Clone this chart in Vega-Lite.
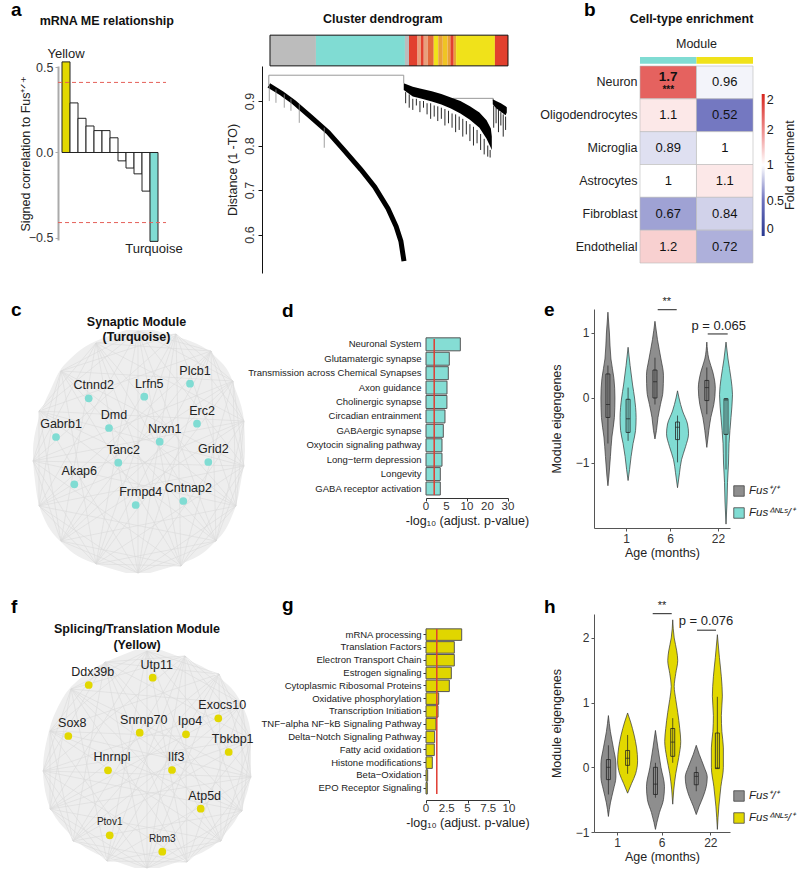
{
  "$schema": "https://vega.github.io/schema/vega-lite/v6.json",
  "background": "white",
  "padding": {"left": 10, "top": 0, "right": 2, "bottom": 2},
  "config": {
    "font": "Liberation Sans",
    "view": {"stroke": null},
    "axis": {"grid": false, "labelColor": "#333333", "titleColor": "#222222", "titleFontWeight": "normal", "labelFontSize": 12, "titleFontSize": 12.5, "domainColor": "#333333", "tickColor": "#333333", "tickSize": 3, "labelOverlap": false},
    "legend": {"padding": 0}
  },
  "columns": 4,
  "spacing": {"row": 36, "column": 0},
  "bounds": "flush",
  "align": "each",
  "concat": [
    {
      "width": 125, "height": 174,
      "layer": [
        {"data": {"name": "me"},
         "mark": {"type": "bar", "width": 8, "stroke": "#222222", "strokeWidth": 1},
         "encoding": {
           "x": {"field": "i", "type": "quantitative", "scale": {"domain": [0, 15.625], "nice": false, "padding": 0, "zero": false}, "axis": null},
           "y": {"field": "r", "type": "quantitative", "scale": {"domain": [-0.512, 0.506], "nice": false, "zero": false},
                 "axis": {"values": [-0.5, 0, 0.5], "format": ".1f", "title": "Signed correlation to Fus⁺ᐟ⁺", "domainColor": "#aaaaaa", "domainWidth": 2, "tickColor": "#aaaaaa", "labelFontSize": 12.5, "titlePadding": -4}},
           "y2": {"datum": 0},
           "color": {"field": "m", "type": "nominal", "scale": {"domain": ["yellow", "other", "turquoise"], "range": ["#e2d800", "#ffffff", "#80dcd3"]}, "legend": null}
         }},
        {"data": {"values": [{"t": 0.41}, {"t": -0.41}]},
         "mark": {"type": "rule", "color": "#e5605a", "strokeDash": [4, 3], "strokeWidth": 1},
         "encoding": {"x": {"datum": 0}, "x2": {"datum": 13.5}, "y": {"field": "t", "type": "quantitative"}}},
        {"data": {"name": "me"}, "transform": [{"filter": "datum.r > 0 && datum.label != ''"}],
         "mark": {"type": "text", "fontSize": 13, "baseline": "bottom", "dy": -1, "color": "#222222"},
         "encoding": {"x": {"field": "i", "type": "quantitative"}, "y": {"field": "r", "type": "quantitative"}, "text": {"field": "label"}}},
        {"data": {"name": "me"}, "transform": [{"filter": "datum.r < 0 && datum.label != ''"}],
         "mark": {"type": "text", "fontSize": 13, "baseline": "top", "dy": 2, "color": "#222222"},
         "encoding": {"x": {"field": "i", "type": "quantitative"}, "y": {"field": "r", "type": "quantitative"}, "text": {"field": "label"}}},
        {"data": {"values": [{}]},
         "mark": {"type": "text", "fontSize": 12.5, "fontWeight": "bold", "color": "#111111"},
         "encoding": {"x": {"datum": 6.1}, "y": {"datum": 0.772}, "text": {"value": "mRNA ME relationship"}}},
        {"data": {"values": [{}]},
         "mark": {"type": "text", "fontSize": 19, "fontWeight": "bold", "align": "left", "baseline": "alphabetic", "color": "#000000"},
         "encoding": {"x": {"datum": -5.875}, "y": {"datum": 0.798}, "text": {"value": "a"}}}
      ]
    },
    {
      "width": 157, "height": 207,
      "layer": [
        {"data": {"name": "dcurve"},
         "mark": {"type": "line", "color": "#000000", "strokeWidth": 5, "strokeCap": "butt"},
         "encoding": {
           "x": {"field": "x", "type": "quantitative", "scale": {"domain": [-0.42, 65.55], "nice": false, "zero": false}, "axis": null},
           "y": {"field": "y", "type": "quantitative", "scale": {"domain": [0.5135, 0.9787], "nice": false, "zero": false},
                 "axis": {"values": [0.6, 0.7, 0.8, 0.9], "format": ".1f", "labelAngle": -90, "title": "Distance (1 -TO)", "offset": 7, "domainColor": "#111111", "tickColor": "#111111", "tickSize": 4, "labelFontSize": 12.5, "titlePadding": 4}}
         }},
        {"data": {"name": "dbracket"},
         "mark": {"type": "line", "color": "#999999", "strokeWidth": 1},
         "encoding": {"x": {"field": "x", "type": "quantitative"}, "y": {"field": "y", "type": "quantitative"}, "detail": {"field": "g"}, "order": {"field": "o"}}},
        {"data": {"name": "dhair"},
         "mark": {"type": "rule", "color": "#888888", "strokeWidth": 0.8},
         "encoding": {"x": {"field": "x", "type": "quantitative"}, "y": {"field": "y", "type": "quantitative"}, "y2": {"field": "y2"}}},
        {"data": {"name": "dcore"},
         "mark": {"type": "area", "color": "#000000"},
         "encoding": {"x": {"field": "x", "type": "quantitative"}, "y": {"field": "y", "type": "quantitative"}, "y2": {"field": "y2"}, "detail": {"field": "g"}}},
        {"data": {"name": "dspike"},
         "mark": {"type": "rule", "color": "#111111", "strokeWidth": 0.9},
         "encoding": {"x": {"field": "x", "type": "quantitative"}, "y": {"field": "y", "type": "quantitative"}, "y2": {"field": "y2"}}},
        {"data": {"name": "dstrip"},
         "mark": {"type": "rect"},
         "encoding": {
           "x": {"field": "a", "type": "quantitative"}, "x2": {"field": "b"},
           "y": {"datum": 1.048}, "y2": {"datum": 0.979},
           "color": {"field": "m", "type": "nominal", "scale": {"domain": ["grey", "turquoise", "red", "salmon", "orangered", "orange", "gold", "yellow"], "range": ["#bcbcbc", "#80dcd3", "#e2402e", "#e8a07c", "#e26a3c", "#e9a03a", "#efc424", "#f0e21a"]}, "legend": null}
         }},
        {"data": {"values": [{}]},
         "mark": {"type": "rect", "fill": "transparent", "stroke": "#111111", "strokeWidth": 1},
         "encoding": {"x": {"datum": 0}, "x2": {"datum": 100}, "y": {"datum": 1.048}, "y2": {"datum": 0.979}}},
        {"data": {"values": [{}]},
         "mark": {"type": "text", "fontSize": 12.5, "fontWeight": "bold", "color": "#111111"},
         "encoding": {"x": {"datum": 47.4}, "y": {"datum": 1.084}, "text": {"value": "Cluster dendrogram"}}}
      ]
    },
    {"width": 168, "height": 1, "data": {"values": []}, "mark": "point"},
    {
      "width": 159, "height": 197,
      "layer": [
        {"data": {"name": "enrich"},
         "layer": [
           {"mark": {"type": "rect", "stroke": "#bbbbbb", "strokeWidth": 0.6},
            "encoding": {
              "x": {"field": "module", "type": "nominal", "sort": ["turquoise", "yellow"], "scale": {"paddingInner": 0, "paddingOuter": 0.407, "align": 1}, "axis": null},
              "y": {"field": "cell", "type": "nominal", "sort": ["Neuron", "Oligodendrocytes", "Microglia", "Astrocytes", "Fibroblast", "Endothelial"], "scale": {"paddingInner": 0, "paddingOuter": 0},
                    "axis": {"title": null, "ticks": false, "domain": false, "labelFontSize": 12.5, "labelPadding": 3, "labelColor": "#222222", "offset": -46}},
              "color": {"field": "fe", "type": "quantitative",
                        "scale": {"domain": [0, 0.5, 1, 1.5, 2], "range": ["#2a3990", "#6e72be", "#ffffff", "#ee8a8a", "#d7261e"], "interpolate": "rgb"},
                        "legend": {"orient": "none", "legendX": 167.7, "legendY": 28, "direction": "vertical", "gradientLength": 142, "gradientThickness": 3, "values": [0, 0.5, 1, 1.5, 2], "format": "~g", "labelOverlap": false, "title": null, "labelFontSize": 12.5, "labelColor": "#222222", "labelOffset": 2, "gradientStrokeWidth": 0}}
            }},
           {"transform": [{"filter": "datum.sig == ''"}],
            "mark": {"type": "text", "fontSize": 13, "color": "#111111"},
            "encoding": {
              "x": {"field": "module", "type": "nominal", "sort": ["turquoise", "yellow"]},
              "y": {"field": "cell", "type": "nominal", "sort": ["Neuron", "Oligodendrocytes", "Microglia", "Astrocytes", "Fibroblast", "Endothelial"]},
              "text": {"field": "fe", "type": "quantitative", "format": "~g"}}},
           {"transform": [{"filter": "datum.sig != ''"}],
            "mark": {"type": "text", "fontSize": 13.5, "fontWeight": "bold", "dy": -5, "color": "#111111"},
            "encoding": {
              "x": {"field": "module", "type": "nominal", "sort": ["turquoise", "yellow"]},
              "y": {"field": "cell", "type": "nominal", "sort": ["Neuron", "Oligodendrocytes", "Microglia", "Astrocytes", "Fibroblast", "Endothelial"]},
              "text": {"field": "fe", "type": "quantitative", "format": "~g"}}},
           {"transform": [{"filter": "datum.sig != ''"}],
            "mark": {"type": "text", "fontSize": 10, "fontWeight": "bold", "dy": 8, "color": "#111111"},
            "encoding": {
              "x": {"field": "module", "type": "nominal", "sort": ["turquoise", "yellow"]},
              "y": {"field": "cell", "type": "nominal", "sort": ["Neuron", "Oligodendrocytes", "Microglia", "Astrocytes", "Fibroblast", "Endothelial"]},
              "text": {"field": "sig"}}}
         ]},
        {"data": {"values": [{}]},
         "layer": [
           {"mark": {"type": "rect", "color": "#80dcd3"},
            "encoding": {"x": {"datum": "turquoise"}, "y": {"datum": 1.012, "type": "quantitative", "scale": {"domain": [0, 1], "nice": false}, "axis": null}, "y2": {"datum": 1.046}}},
           {"mark": {"type": "rect", "color": "#f0e21a"},
            "encoding": {"x": {"datum": "yellow"}, "y": {"datum": 1.012, "type": "quantitative"}, "y2": {"datum": 1.046}}},
           {"mark": {"type": "text", "fontSize": 12.5, "color": "#222222"},
            "encoding": {"x": {"datum": "turquoise", "bandPosition": 1}, "y": {"datum": 1.113, "type": "quantitative"}, "text": {"value": "Module"}}},
           {"mark": {"type": "text", "fontSize": 12.5, "fontWeight": "bold", "dx": -5, "color": "#111111"},
            "encoding": {"x": {"datum": "turquoise", "bandPosition": 1}, "y": {"datum": 1.239, "type": "quantitative"}, "text": {"value": "Cell-type enrichment"}}},
           {"mark": {"type": "text", "fontSize": 12.5, "color": "#222222", "angle": 270, "align": "center", "baseline": "middle", "dy": 37},
            "encoding": {"x": {"datum": "yellow", "bandPosition": 1}, "y": {"datum": 0.497, "type": "quantitative"}, "text": {"value": "Fold enrichment"}}},
           {"mark": {"type": "text", "fontSize": 19, "fontWeight": "bold", "align": "left", "baseline": "alphabetic", "dx": -56, "color": "#000000"},
            "encoding": {"x": {"datum": "turquoise", "bandPosition": 0}, "y": {"datum": 1.254, "type": "quantitative"}, "text": {"value": "b"}}}
         ]}
      ],
      "resolve": {"scale": {"y": "independent"}}
    },
    {
      "width": 211, "height": 269,
      "layer": [
        {"data": {"name": "cblob"},
         "mark": {"type": "area", "orient": "horizontal", "color": "#eeeeee", "interpolate": "monotone"},
         "encoding": {"y": {"field": "y", "type": "quantitative", "scale": {"domain": [-1.27, 1.42], "nice": false, "zero": false}, "axis": null}, "x": {"field": "xl", "type": "quantitative", "scale": {"domain": [-0.8, 1.31], "nice": false, "zero": false}, "axis": null}, "x2": {"field": "xr"}}},
        {"data": {"name": "edges"},
         "transform": [
           {"lookup": "s", "from": {"data": {"name": "cperim"}, "key": "id", "fields": ["x", "y"]}, "as": ["x1", "y1"]},
           {"lookup": "t", "from": {"data": {"name": "cperim"}, "key": "id", "fields": ["x", "y"]}, "as": ["x2", "y2"]}],
         "mark": {"type": "rule", "color": "#dadada", "strokeWidth": 0.6},
         "encoding": {"x": {"field": "x1", "type": "quantitative"}, "y": {"field": "y1", "type": "quantitative"}, "x2": {"field": "x2"}, "y2": {"field": "y2"}}},
        {"data": {"name": "cgenes"},
         "mark": {"type": "circle", "size": 60, "color": "#80dcd3", "opacity": 1},
         "encoding": {"x": {"field": "x", "type": "quantitative"}, "y": {"field": "y", "type": "quantitative"}}},
        {"data": {"name": "cgenes"},
         "mark": {"type": "text", "fontSize": 12.5, "dx": 5, "dy": -13, "color": "#222222"},
         "encoding": {"x": {"field": "x", "type": "quantitative"}, "y": {"field": "y", "type": "quantitative"}, "text": {"field": "gene"}}},
        {"data": {"values": [{}]},
         "mark": {"type": "text", "fontSize": 12.5, "fontWeight": "bold", "lineHeight": 15.5, "color": "#111111"},
         "encoding": {"x": {"datum": -0.015}, "y": {"datum": 1.295}, "text": {"value": ["Synaptic Module", "(Turquoise)"]}}},
        {"data": {"values": [{}]},
         "mark": {"type": "text", "fontSize": 19, "fontWeight": "bold", "align": "left", "baseline": "alphabetic", "color": "#000000"},
         "encoding": {"x": {"datum": -1.27}, "y": {"datum": 1.35}, "text": {"value": "c"}}}
      ]
    },
    {"width": 1, "height": 1, "data": {"values": []}, "mark": "point"},
    {
      "width": 82, "height": 186,
      "layer": [
        {"data": {"name": "dterms"},
         "mark": {"type": "bar", "color": "#85ddd4", "stroke": "#555555", "strokeWidth": 1},
         "encoding": {
           "y": {"field": "term", "type": "nominal", "sort": null, "scale": {"paddingInner": 0.1, "paddingOuter": 1.05, "align": 1},
                 "axis": {"title": null, "ticks": false, "domain": false, "labelFontSize": 9.5, "labelColor": "#222222", "labelPadding": 5, "labelLimit": 400}},
           "x": {"field": "v", "type": "quantitative", "scale": {"domain": [0, 20], "nice": false},
                 "axis": {"values": [0, 5, 10, 15, 20], "labels": false, "title": "-log₁₀ (adjust. p-value)", "offset": 3, "titlePadding": 13}}
         }},
        {"data": {"values": [{}]},
         "layer": [
           {"mark": {"type": "rule", "color": "#e03c31", "strokeWidth": 1.5},
            "encoding": {"x": {"datum": 2}, "y": {"datum": 0, "type": "quantitative", "scale": {"domain": [0, 1], "nice": false}, "axis": null}, "y2": {"datum": 0.839}}},
           {"data": {"values": [{"t": 0, "l": "0"}, {"t": 5, "l": "5"}, {"t": 10, "l": "10"}, {"t": 15, "l": "20"}, {"t": 20, "l": "30"}]},
            "mark": {"type": "text", "fontSize": 11.5, "color": "#333333", "baseline": "middle", "align": "center"},
            "encoding": {"x": {"field": "t", "type": "quantitative"}, "y": {"datum": -0.0645, "type": "quantitative"}, "text": {"field": "l"}}},
           {"mark": {"type": "text", "fontSize": 19, "fontWeight": "bold", "align": "left", "baseline": "alphabetic", "color": "#000000"},
            "encoding": {"x": {"datum": -35.1}, "y": {"datum": 0.957, "type": "quantitative"}, "text": {"value": "d"}}}
         ]}
      ],
      "resolve": {"scale": {"y": "independent"}}
    },
    {
      "width": 136, "height": 219,
      "layer": [
        {"data": {"name": "violins"}, "transform": [{"filter": "datum.p == 'e'"}],
         "mark": {"type": "area", "orient": "horizontal", "interpolate": "monotone", "stroke": "#333333", "strokeWidth": 0.7},
         "encoding": {
           "y": {"field": "y", "type": "quantitative", "scale": {"domain": [-2, 1.369], "nice": false, "zero": false}, "axis": {"values": [-1, 0, 1], "format": "~g", "title": "Module eigengenes", "titlePadding": 12, "domainColor": "#555555", "tickColor": "#555555"}},
           "x": {"field": "lo", "type": "quantitative", "scale": {"domain": [0.5, 3.333], "nice": false, "zero": false, "padding": 0}, "axis": {"values": [1.167, 2.083, 3.083], "labelExpr": "datum.value < 1.6 ? '1' : datum.value < 2.6 ? '6' : '22'", "title": "Age (months)", "titlePadding": 2, "domainColor": "#555555", "tickColor": "#555555"}},
           "x2": {"field": "hi"},
           "detail": {"field": "v"},
           "color": {"field": "g", "type": "nominal", "scale": {"domain": ["wt", "mut"], "range": ["#8e8e8e", "#80dcd3"]},
                     "legend": {"orient": "none", "legendX": 139, "legendY": 176, "title": null, "symbolType": "square", "symbolSize": 110, "symbolStrokeColor": "#444444", "symbolStrokeWidth": 0.8, "labelFontSize": 11.5, "labelFontStyle": "italic", "labelColor": "#222222", "rowPadding": 8, "labelOffset": 4, "labelExpr": "datum.value == 'wt' ? 'Fus⁺/⁺' : 'Fusᐞᴺᴸˢ/⁺'"}}
         }},
        {"data": {"name": "boxes"}, "transform": [{"filter": "datum.p == 'e'"}],
         "mark": {"type": "rule", "color": "#222222", "strokeWidth": 0.7},
         "encoding": {"x": {"field": "pos", "type": "quantitative"}, "y": {"field": "lo", "type": "quantitative"}, "y2": {"field": "hi"}}},
        {"data": {"name": "boxes"}, "transform": [{"filter": "datum.p == 'e'"}],
         "mark": {"type": "bar", "filled": false, "color": "#222222", "strokeWidth": 0.8, "width": 4},
         "encoding": {"x": {"field": "pos", "type": "quantitative"}, "y": {"field": "q1", "type": "quantitative"}, "y2": {"field": "q3"}}},
        {"data": {"name": "boxes"}, "transform": [{"filter": "datum.p == 'e'"}],
         "mark": {"type": "tick", "orient": "horizontal", "size": 4, "thickness": 1, "color": "#222222"},
         "encoding": {"x": {"field": "pos", "type": "quantitative"}, "y": {"field": "med", "type": "quantitative"}}},
        {"data": {"values": [{}]},
         "mark": {"type": "rule", "color": "#222222", "strokeWidth": 1},
         "encoding": {"x": {"datum": 1.827}, "x2": {"datum": 2.223}, "y": {"datum": 1.358}}},
        {"data": {"values": [{}]},
         "mark": {"type": "text", "fontSize": 11, "color": "#222222"},
         "encoding": {"x": {"datum": 2.015}, "y": {"datum": 1.47}, "text": {"value": "**"}}},
        {"data": {"values": [{}]},
         "mark": {"type": "rule", "color": "#222222", "strokeWidth": 1},
         "encoding": {"x": {"datum": 2.869}, "x2": {"datum": 3.285}, "y": {"datum": 0.985}}},
        {"data": {"values": [{}]},
         "mark": {"type": "text", "fontSize": 13, "color": "#222222"},
         "encoding": {"x": {"datum": 3.098}, "y": {"datum": 1.11}, "text": {"value": "p = 0.065"}}},
        {"data": {"values": [{}]},
         "mark": {"type": "text", "fontSize": 19, "fontWeight": "bold", "align": "left", "baseline": "alphabetic", "color": "#000000"},
         "encoding": {"x": {"datum": -0.542}, "y": {"datum": 1.266}, "text": {"value": "e"}}}
      ]
    },
    {
      "width": 211, "height": 218,
      "layer": [
        {"data": {"name": "fblob"},
         "mark": {"type": "area", "orient": "horizontal", "color": "#eeeeee", "interpolate": "monotone"},
         "encoding": {"y": {"field": "y", "type": "quantitative", "scale": {"domain": [-0.73, 1.45], "nice": false, "zero": false}, "axis": null}, "x": {"field": "xl", "type": "quantitative", "scale": {"domain": [-0.89, 1.22], "nice": false, "zero": false}, "axis": null}, "x2": {"field": "xr"}}},
        {"data": {"name": "edges"},
         "transform": [
           {"lookup": "s", "from": {"data": {"name": "fperim"}, "key": "id", "fields": ["x", "y"]}, "as": ["x1", "y1"]},
           {"lookup": "t", "from": {"data": {"name": "fperim"}, "key": "id", "fields": ["x", "y"]}, "as": ["x2", "y2"]}],
         "mark": {"type": "rule", "color": "#dadada", "strokeWidth": 0.6},
         "encoding": {"x": {"field": "x1", "type": "quantitative"}, "y": {"field": "y1", "type": "quantitative"}, "x2": {"field": "x2"}, "y2": {"field": "y2"}}},
        {"data": {"name": "fgenes"},
         "mark": {"type": "circle", "size": 60, "color": "#e2d800", "opacity": 1},
         "encoding": {"x": {"field": "x", "type": "quantitative"}, "y": {"field": "y", "type": "quantitative"}}},
        {"data": {"name": "fgenes"}, "transform": [{"filter": "datum.gene != 'Ptov1' && datum.gene != 'Rbm3'"}],
         "mark": {"type": "text", "fontSize": 12.5, "dx": 4, "dy": -13, "color": "#222222"},
         "encoding": {"x": {"field": "x", "type": "quantitative"}, "y": {"field": "y", "type": "quantitative"}, "text": {"field": "gene"}}},
        {"data": {"name": "fgenes"}, "transform": [{"filter": "datum.gene == 'Ptov1' || datum.gene == 'Rbm3'"}],
         "mark": {"type": "text", "fontSize": 10, "dx": 0, "dy": -13, "color": "#222222"},
         "encoding": {"x": {"field": "x", "type": "quantitative"}, "y": {"field": "y", "type": "quantitative"}, "text": {"field": "gene"}}},
        {"data": {"values": [{}]},
         "mark": {"type": "text", "fontSize": 12.5, "fontWeight": "bold", "lineHeight": 16, "color": "#111111"},
         "encoding": {"x": {"datum": -0.1}, "y": {"datum": 1.3}, "text": {"value": ["Splicing/Translation Module", "(Yellow)"]}}},
        {"data": {"values": [{}]},
         "mark": {"type": "text", "fontSize": 19, "fontWeight": "bold", "align": "left", "baseline": "alphabetic", "color": "#000000"},
         "encoding": {"x": {"datum": -1.36}, "y": {"datum": 1.46}, "text": {"value": "f"}}}
      ]
    },
    {"width": 1, "height": 1, "data": {"values": []}, "mark": "point"},
    {
      "width": 83, "height": 180,
      "layer": [
        {"data": {"name": "gterms"},
         "mark": {"type": "bar", "color": "#e0d600", "stroke": "#555555", "strokeWidth": 1},
         "encoding": {
           "y": {"field": "term", "type": "nominal", "sort": null, "scale": {"paddingInner": 0.1, "paddingOuter": 0.58, "align": 1},
                 "axis": {"title": null, "ticks": true, "tickSize": 3, "domain": false, "labelFontSize": 9.5, "labelColor": "#222222", "labelPadding": 2, "labelLimit": 400}},
           "x": {"field": "v", "type": "quantitative", "scale": {"domain": [0, 10], "nice": false},
                 "axis": {"values": [0, 2.5, 5, 7.5, 10], "labels": false, "title": "-log₁₀ (adjust. p-value)", "offset": 6, "titlePadding": 13}}
         }},
        {"data": {"values": [{}]},
         "layer": [
           {"mark": {"type": "rule", "color": "#e03c31", "strokeWidth": 1.5},
            "encoding": {"x": {"datum": 1.3}, "y": {"datum": 0, "type": "quantitative", "scale": {"domain": [0, 1], "nice": false}, "axis": null}, "y2": {"datum": 0.917}}},
           {"data": {"values": [{"t": 0, "l": "0"}, {"t": 2.5, "l": "2.5"}, {"t": 5, "l": "5"}, {"t": 7.5, "l": "7.5"}, {"t": 10, "l": "10"}]},
            "mark": {"type": "text", "fontSize": 11.5, "color": "#333333", "baseline": "middle", "align": "center"},
            "encoding": {"x": {"field": "t", "type": "quantitative"}, "y": {"datum": -0.0833, "type": "quantitative"}, "text": {"field": "l"}}},
           {"mark": {"type": "text", "fontSize": 19, "fontWeight": "bold", "align": "left", "baseline": "alphabetic", "color": "#000000"},
            "encoding": {"x": {"datum": -17.35}, "y": {"datum": 1.017, "type": "quantitative"}, "text": {"value": "g"}}}
         ]}
      ],
      "resolve": {"scale": {"y": "independent"}}
    },
    {
      "width": 136, "height": 218,
      "layer": [
        {"data": {"name": "violins"}, "transform": [{"filter": "datum.p == 'h'"}],
         "mark": {"type": "area", "orient": "horizontal", "interpolate": "monotone", "stroke": "#333333", "strokeWidth": 0.7},
         "encoding": {
           "y": {"field": "y", "type": "quantitative", "scale": {"domain": [-1, 2.37], "nice": false, "zero": false}, "axis": {"values": [-1, 0, 1, 2], "format": "~g", "title": "Module eigengenes", "titlePadding": 12, "domainColor": "#555555", "tickColor": "#555555"}},
           "x": {"field": "lo", "type": "quantitative", "scale": {"domain": [0.5, 3.333], "nice": false, "zero": false, "padding": 0}, "axis": {"values": [0.979, 1.91, 2.923], "labelExpr": "datum.value < 1.5 ? '1' : datum.value < 2.5 ? '6' : '22'", "title": "Age (months)", "titlePadding": 2, "domainColor": "#555555", "tickColor": "#555555"}},
           "x2": {"field": "hi"},
           "detail": {"field": "v"},
           "color": {"field": "g", "type": "nominal", "scale": {"domain": ["wt", "mut"], "range": ["#8e8e8e", "#e2d800"]},
                     "legend": {"orient": "none", "legendX": 139, "legendY": 176, "title": null, "symbolType": "square", "symbolSize": 110, "symbolStrokeColor": "#444444", "symbolStrokeWidth": 0.8, "labelFontSize": 11.5, "labelFontStyle": "italic", "labelColor": "#222222", "rowPadding": 8, "labelOffset": 4, "labelExpr": "datum.value == 'wt' ? 'Fus⁺/⁺' : 'Fusᐞᴺᴸˢ/⁺'"}}
         }},
        {"data": {"name": "boxes"}, "transform": [{"filter": "datum.p == 'h'"}],
         "mark": {"type": "rule", "color": "#222222", "strokeWidth": 0.7},
         "encoding": {"x": {"field": "pos", "type": "quantitative"}, "y": {"field": "lo", "type": "quantitative"}, "y2": {"field": "hi"}}},
        {"data": {"name": "boxes"}, "transform": [{"filter": "datum.p == 'h'"}],
         "mark": {"type": "bar", "filled": false, "color": "#222222", "strokeWidth": 0.8, "width": 4},
         "encoding": {"x": {"field": "pos", "type": "quantitative"}, "y": {"field": "q1", "type": "quantitative"}, "y2": {"field": "q3"}}},
        {"data": {"name": "boxes"}, "transform": [{"filter": "datum.p == 'h'"}],
         "mark": {"type": "tick", "orient": "horizontal", "size": 4, "thickness": 1, "color": "#222222"},
         "encoding": {"x": {"field": "pos", "type": "quantitative"}, "y": {"field": "med", "type": "quantitative"}}},
        {"data": {"values": [{}]},
         "mark": {"type": "rule", "color": "#222222", "strokeWidth": 1},
         "encoding": {"x": {"datum": 1.723}, "x2": {"datum": 2.119}, "y": {"datum": 2.375}}},
        {"data": {"values": [{}]},
         "mark": {"type": "text", "fontSize": 11, "color": "#222222"},
         "encoding": {"x": {"datum": 1.917}, "y": {"datum": 2.49}, "text": {"value": "**"}}},
        {"data": {"values": [{}]},
         "mark": {"type": "rule", "color": "#222222", "strokeWidth": 1},
         "encoding": {"x": {"datum": 2.646}, "x2": {"datum": 3.042}, "y": {"datum": 2.12}}},
        {"data": {"values": [{}]},
         "mark": {"type": "text", "fontSize": 13, "color": "#222222"},
         "encoding": {"x": {"datum": 2.833}, "y": {"datum": 2.26}, "text": {"value": "p = 0.076"}}},
        {"data": {"values": [{}]},
         "mark": {"type": "text", "fontSize": 19, "fontWeight": "bold", "align": "left", "baseline": "alphabetic", "color": "#000000"},
         "encoding": {"x": {"datum": -0.542}, "y": {"datum": 2.38}, "text": {"value": "h"}}}
      ]
    }
  ],
  "datasets": {
    "me": [
      {"i": 1, "r": 0.53, "m": "yellow", "label": "Yellow"},
      {"i": 2, "r": 0.29, "m": "other", "label": ""},
      {"i": 3, "r": 0.2, "m": "other", "label": ""},
      {"i": 4, "r": 0.155, "m": "other", "label": ""},
      {"i": 5, "r": 0.128, "m": "other", "label": ""},
      {"i": 6, "r": 0.128, "m": "other", "label": ""},
      {"i": 7, "r": 0.086, "m": "other", "label": ""},
      {"i": 8, "r": -0.049, "m": "other", "label": ""},
      {"i": 9, "r": -0.091, "m": "other", "label": ""},
      {"i": 10, "r": -0.125, "m": "other", "label": ""},
      {"i": 11, "r": -0.226, "m": "other", "label": ""},
      {"i": 12, "r": -0.52, "m": "turquoise", "label": "Turquoise"}
    ],
    "dstrip": [
      {"a": 0, "b": 19.3, "m": "grey"}, {"a": 19.3, "b": 56.7, "m": "turquoise"}, {"a": 56.7, "b": 58.4, "m": "grey"},
      {"a": 58.4, "b": 62, "m": "red"}, {"a": 62, "b": 63.4, "m": "salmon"}, {"a": 63.4, "b": 64.6, "m": "red"},
      {"a": 64.6, "b": 66.3, "m": "salmon"}, {"a": 66.3, "b": 68.8, "m": "orangered"}, {"a": 68.8, "b": 70.7, "m": "yellow"},
      {"a": 70.7, "b": 72.6, "m": "orange"}, {"a": 72.6, "b": 74.6, "m": "gold"}, {"a": 74.6, "b": 75.8, "m": "orange"},
      {"a": 75.8, "b": 77.2, "m": "red"}, {"a": 77.2, "b": 78.2, "m": "orange"}, {"a": 78.2, "b": 94.5, "m": "yellow"},
      {"a": 94.5, "b": 100, "m": "red"}
    ],
    "dcurve": [
      {"x": -0.5, "y": 0.935}, {"x": 5, "y": 0.917}, {"x": 10.1, "y": 0.897}, {"x": 17, "y": 0.865}, {"x": 24.4, "y": 0.83},
      {"x": 31, "y": 0.79}, {"x": 38.2, "y": 0.746}, {"x": 44, "y": 0.707}, {"x": 49.6, "y": 0.658}, {"x": 53, "y": 0.618},
      {"x": 55, "y": 0.585}, {"x": 56.3, "y": 0.54}
    ],
    "dhair": [
      {"x": -0.3, "y": 0.935, "y2": 0.9}, {"x": 2.5, "y": 0.926, "y2": 0.896}, {"x": 6, "y": 0.915, "y2": 0.885},
      {"x": 8.8, "y": 0.905, "y2": 0.878}, {"x": 12.3, "y": 0.893, "y2": 0.851}, {"x": 22.8, "y": 0.84, "y2": 0.795}
    ],
    "dbracket": [
      {"g": 1, "o": 1, "x": -0.5, "y": 0.935}, {"g": 1, "o": 2, "x": -0.5, "y": 0.958}, {"g": 1, "o": 3, "x": 56.2, "y": 0.958}, {"g": 1, "o": 4, "x": 56.2, "y": 0.94},
      {"g": 2, "o": 1, "x": 76.8, "y": 0.9}, {"g": 2, "o": 2, "x": 76.8, "y": 0.906}, {"g": 2, "o": 3, "x": 93.8, "y": 0.906}, {"g": 2, "o": 4, "x": 93.8, "y": 0.9}
    ],
    "dcore": [
      {"g": 1, "x": 56.2, "y": 0.94, "y2": 0.925}, {"g": 1, "x": 60, "y": 0.932, "y2": 0.91}, {"g": 1, "x": 63, "y": 0.928, "y2": 0.906},
      {"g": 1, "x": 68, "y": 0.922, "y2": 0.899}, {"g": 1, "x": 72, "y": 0.916, "y2": 0.892}, {"g": 1, "x": 76, "y": 0.908, "y2": 0.883},
      {"g": 1, "x": 80, "y": 0.9, "y2": 0.872}, {"g": 1, "x": 84, "y": 0.888, "y2": 0.858}, {"g": 1, "x": 88, "y": 0.874, "y2": 0.84},
      {"g": 1, "x": 91, "y": 0.857, "y2": 0.815}, {"g": 1, "x": 92.8, "y": 0.838, "y2": 0.795}, {"g": 1, "x": 93.2, "y": 0.82, "y2": 0.79},
      {"g": 2, "x": 93.6, "y": 0.904, "y2": 0.893}, {"g": 2, "x": 95, "y": 0.9, "y2": 0.884}, {"g": 2, "x": 97, "y": 0.895, "y2": 0.876},
      {"g": 2, "x": 99, "y": 0.888, "y2": 0.868}, {"g": 2, "x": 99.5, "y": 0.886, "y2": 0.874}
    ],
    "dspike": [
      {"x": 57, "y": 0.92, "y2": 0.895}, {"x": 58.5, "y": 0.915, "y2": 0.885}, {"x": 60, "y": 0.905, "y2": 0.88}, {"x": 61.5, "y": 0.905, "y2": 0.89},
      {"x": 63, "y": 0.9, "y2": 0.875}, {"x": 64.5, "y": 0.9, "y2": 0.885}, {"x": 66, "y": 0.895, "y2": 0.87}, {"x": 67.5, "y": 0.895, "y2": 0.86},
      {"x": 69, "y": 0.89, "y2": 0.865}, {"x": 70.5, "y": 0.888, "y2": 0.855}, {"x": 72, "y": 0.885, "y2": 0.86}, {"x": 73.5, "y": 0.882, "y2": 0.845},
      {"x": 75, "y": 0.878, "y2": 0.85}, {"x": 76.5, "y": 0.872, "y2": 0.84}, {"x": 78, "y": 0.87, "y2": 0.83}, {"x": 79.5, "y": 0.865, "y2": 0.835},
      {"x": 81, "y": 0.86, "y2": 0.82}, {"x": 82.5, "y": 0.855, "y2": 0.825}, {"x": 84, "y": 0.848, "y2": 0.81}, {"x": 85.5, "y": 0.842, "y2": 0.8},
      {"x": 87, "y": 0.835, "y2": 0.805}, {"x": 88.5, "y": 0.826, "y2": 0.79}, {"x": 90, "y": 0.815, "y2": 0.78}, {"x": 91.5, "y": 0.8, "y2": 0.775},
      {"x": 92.5, "y": 0.79, "y2": 0.773}, {"x": 94, "y": 0.89, "y2": 0.84}, {"x": 95, "y": 0.885, "y2": 0.85}, {"x": 96, "y": 0.88, "y2": 0.83},
      {"x": 97, "y": 0.875, "y2": 0.845}, {"x": 98, "y": 0.87, "y2": 0.82}, {"x": 99, "y": 0.865, "y2": 0.835}
    ],
    "enrich": [
      {"cell": "Neuron", "module": "turquoise", "fe": 1.7, "sig": "***"},
      {"cell": "Neuron", "module": "yellow", "fe": 0.96, "sig": ""},
      {"cell": "Oligodendrocytes", "module": "turquoise", "fe": 1.1, "sig": ""},
      {"cell": "Oligodendrocytes", "module": "yellow", "fe": 0.52, "sig": ""},
      {"cell": "Microglia", "module": "turquoise", "fe": 0.89, "sig": ""},
      {"cell": "Microglia", "module": "yellow", "fe": 1, "sig": ""},
      {"cell": "Astrocytes", "module": "turquoise", "fe": 1, "sig": ""},
      {"cell": "Astrocytes", "module": "yellow", "fe": 1.1, "sig": ""},
      {"cell": "Fibroblast", "module": "turquoise", "fe": 0.67, "sig": ""},
      {"cell": "Fibroblast", "module": "yellow", "fe": 0.84, "sig": ""},
      {"cell": "Endothelial", "module": "turquoise", "fe": 1.2, "sig": ""},
      {"cell": "Endothelial", "module": "yellow", "fe": 0.72, "sig": ""}
    ],
    "cperim": [
      {"id": 1, "x": 0, "y": 1.2}, {"id": 2, "x": 0.38, "y": 1.17}, {"id": 3, "x": 0.73, "y": 1.0}, {"id": 4, "x": 0.95, "y": 0.7},
      {"id": 5, "x": 1.06, "y": 0.3}, {"id": 6, "x": 1.06, "y": -0.15}, {"id": 7, "x": 0.98, "y": -0.55}, {"id": 8, "x": 0.78, "y": -0.9},
      {"id": 9, "x": 0.43, "y": -1.15}, {"id": 10, "x": 0, "y": -1.22}, {"id": 11, "x": -0.42, "y": -1.13}, {"id": 12, "x": -0.77, "y": -0.9},
      {"id": 13, "x": -0.99, "y": -0.55}, {"id": 14, "x": -1.05, "y": -0.1}, {"id": 15, "x": -0.99, "y": 0.4}, {"id": 16, "x": -0.77, "y": 0.8},
      {"id": 17, "x": -0.42, "y": 1.08}
    ],
    "cblob": [
      {"y": -1.22, "xl": -0.12, "xr": 0.12}, {"y": -1.1, "xl": -0.5, "xr": 0.5}, {"y": -0.9, "xl": -0.78, "xr": 0.78},
      {"y": -0.6, "xl": -0.97, "xr": 0.96}, {"y": -0.3, "xl": -1.03, "xr": 1.03}, {"y": 0, "xl": -1.05, "xr": 1.07},
      {"y": 0.3, "xl": -1.0, "xr": 1.06}, {"y": 0.6, "xl": -0.88, "xr": 0.98}, {"y": 0.9, "xl": -0.7, "xr": 0.82},
      {"y": 1.1, "xl": -0.42, "xr": 0.52}, {"y": 1.21, "xl": -0.12, "xr": 0.15}
    ],
    "cgenes": [
      {"gene": "Plcb1", "x": 0.52, "y": 0.673}, {"gene": "Ctnnd2", "x": -0.493, "y": 0.527}, {"gene": "Lrfn5", "x": 0.063, "y": 0.543},
      {"gene": "Dmd", "x": -0.29, "y": 0.23}, {"gene": "Erc2", "x": 0.59, "y": 0.273}, {"gene": "Gabrb1", "x": -0.82, "y": 0.14},
      {"gene": "Nrxn1", "x": 0.217, "y": 0.093}, {"gene": "Tanc2", "x": -0.197, "y": -0.117}, {"gene": "Grid2", "x": 0.703, "y": -0.11},
      {"gene": "Akap6", "x": -0.637, "y": -0.333}, {"gene": "Frmpd4", "x": -0.023, "y": -0.54}, {"gene": "Cntnap2", "x": 0.453, "y": -0.5}
    ],
    "fperim": [
      {"id": 1, "x": 0, "y": 1.08}, {"id": 2, "x": 0.38, "y": 1.03}, {"id": 3, "x": 0.72, "y": 0.85}, {"id": 4, "x": 0.95, "y": 0.55},
      {"id": 5, "x": 1.04, "y": 0.2}, {"id": 6, "x": 1.04, "y": -0.18}, {"id": 7, "x": 0.95, "y": -0.52}, {"id": 8, "x": 0.74, "y": -0.82},
      {"id": 9, "x": 0.4, "y": -1.03}, {"id": 10, "x": 0, "y": -1.09}, {"id": 11, "x": -0.4, "y": -1.02}, {"id": 12, "x": -0.74, "y": -0.82},
      {"id": 13, "x": -0.97, "y": -0.5}, {"id": 14, "x": -1.04, "y": -0.12}, {"id": 15, "x": -0.97, "y": 0.28}, {"id": 16, "x": -0.76, "y": 0.7},
      {"id": 17, "x": -0.42, "y": 0.97}
    ],
    "fblob": [
      {"y": -1.09, "xl": -0.12, "xr": 0.12}, {"y": -0.95, "xl": -0.5, "xr": 0.52}, {"y": -0.7, "xl": -0.82, "xr": 0.82},
      {"y": -0.4, "xl": -1.0, "xr": 0.98}, {"y": -0.1, "xl": -1.04, "xr": 1.04}, {"y": 0.2, "xl": -1.0, "xr": 1.04},
      {"y": 0.5, "xl": -0.9, "xr": 0.97}, {"y": 0.75, "xl": -0.73, "xr": 0.8}, {"y": 0.95, "xl": -0.45, "xr": 0.5},
      {"y": 1.09, "xl": -0.12, "xr": 0.14}
    ],
    "fgenes": [
      {"gene": "Ddx39b", "x": -0.583, "y": 0.74}, {"gene": "Utp11", "x": 0.057, "y": 0.813}, {"gene": "Exocs10", "x": 0.713, "y": 0.407},
      {"gene": "Sox8", "x": -0.787, "y": 0.23}, {"gene": "Snrnp70", "x": -0.073, "y": 0.263}, {"gene": "Ipo4", "x": 0.39, "y": 0.247},
      {"gene": "Tbkbp1", "x": 0.817, "y": 0.07}, {"gene": "Hnrnpl", "x": -0.39, "y": -0.113}, {"gene": "Ilf3", "x": 0.25, "y": -0.11},
      {"gene": "Atp5d", "x": 0.537, "y": -0.497}, {"gene": "Ptov1", "x": -0.373, "y": -0.763}, {"gene": "Rbm3", "x": 0.153, "y": -0.927}
    ],
    "edges": [
      {"s": 1, "t": 3}, {"s": 2, "t": 4}, {"s": 3, "t": 5}, {"s": 4, "t": 6}, {"s": 5, "t": 7}, {"s": 6, "t": 8}, {"s": 7, "t": 9}, {"s": 8, "t": 10}, {"s": 9, "t": 11}, {"s": 10, "t": 12}, {"s": 11, "t": 13}, {"s": 12, "t": 14}, {"s": 13, "t": 15}, {"s": 14, "t": 16}, {"s": 15, "t": 17}, {"s": 16, "t": 1}, {"s": 17, "t": 2},
      {"s": 1, "t": 4}, {"s": 2, "t": 5}, {"s": 3, "t": 6}, {"s": 4, "t": 7}, {"s": 5, "t": 8}, {"s": 6, "t": 9}, {"s": 7, "t": 10}, {"s": 8, "t": 11}, {"s": 9, "t": 12}, {"s": 10, "t": 13}, {"s": 11, "t": 14}, {"s": 12, "t": 15}, {"s": 13, "t": 16}, {"s": 14, "t": 17}, {"s": 15, "t": 1}, {"s": 16, "t": 2}, {"s": 17, "t": 3},
      {"s": 1, "t": 6}, {"s": 2, "t": 7}, {"s": 3, "t": 8}, {"s": 4, "t": 9}, {"s": 5, "t": 10}, {"s": 6, "t": 11}, {"s": 7, "t": 12}, {"s": 8, "t": 13}, {"s": 9, "t": 14}, {"s": 10, "t": 15}, {"s": 11, "t": 16}, {"s": 12, "t": 17}, {"s": 13, "t": 1}, {"s": 14, "t": 2}, {"s": 15, "t": 3}, {"s": 16, "t": 4}, {"s": 17, "t": 5},
      {"s": 1, "t": 8}, {"s": 2, "t": 9}, {"s": 3, "t": 10}, {"s": 4, "t": 11}, {"s": 5, "t": 12}, {"s": 6, "t": 13}, {"s": 7, "t": 14}, {"s": 8, "t": 15}, {"s": 9, "t": 16}, {"s": 10, "t": 17}, {"s": 11, "t": 1}, {"s": 12, "t": 2}, {"s": 13, "t": 3}, {"s": 14, "t": 4}, {"s": 15, "t": 5}, {"s": 16, "t": 6}, {"s": 17, "t": 7},
      {"s": 1, "t": 9}, {"s": 2, "t": 10}, {"s": 3, "t": 11}, {"s": 4, "t": 12}, {"s": 5, "t": 13}, {"s": 6, "t": 14}, {"s": 7, "t": 15}, {"s": 8, "t": 16}, {"s": 9, "t": 17}, {"s": 10, "t": 1}, {"s": 11, "t": 2}, {"s": 12, "t": 3}, {"s": 13, "t": 4}, {"s": 14, "t": 5}, {"s": 15, "t": 6}, {"s": 16, "t": 7}, {"s": 17, "t": 8}
    ],
    "dterms": [
      {"term": "Neuronal System", "v": 8.37}, {"term": "Glutamatergic synapse", "v": 5.68}, {"term": "Transmission across Chemical Synapses", "v": 5.44},
      {"term": "Axon guidance", "v": 5.12}, {"term": "Cholinergic synapse", "v": 5.1}, {"term": "Circadian entrainment", "v": 4.63},
      {"term": "GABAergic synapse", "v": 4.22}, {"term": "Oxytocin signaling pathway", "v": 3.9}, {"term": "Long−term depression", "v": 3.9},
      {"term": "Longevity", "v": 3.49}, {"term": "GABA receptor activation", "v": 3.49}
    ],
    "gterms": [
      {"term": "mRNA processing", "v": 4.3}, {"term": "Translation Factors", "v": 3.41}, {"term": "Electron Transport Chain", "v": 3.41},
      {"term": "Estrogen signaling", "v": 3.05}, {"term": "Cytoplasmic Ribosomal Proteins", "v": 2.81}, {"term": "Oxidative phosphorylation", "v": 1.53},
      {"term": "Transcription Initiation", "v": 1.45}, {"term": "TNF−alpha NF−kB Signaling Pathway", "v": 1.2}, {"term": "Delta−Notch Signaling Pathway", "v": 1.04},
      {"term": "Fatty acid oxidation", "v": 1.0}, {"term": "Histone modifications", "v": 0.76}, {"term": "Beta−Oxidation", "v": 0.2},
      {"term": "EPO Receptor Signaling", "v": 0.16}
    ],
    "violins": [
      {"p": "e", "v": "e1w", "g": "wt", "y": 1.32, "lo": 0.79, "hi": 0.79}, {"p": "e", "v": "e1w", "g": "wt", "y": 1.0, "lo": 0.759, "hi": 0.821},
      {"p": "e", "v": "e1w", "g": "wt", "y": 0.6, "lo": 0.728, "hi": 0.853}, {"p": "e", "v": "e1w", "g": "wt", "y": 0.3, "lo": 0.665, "hi": 0.915},
      {"p": "e", "v": "e1w", "g": "wt", "y": 0.0, "lo": 0.644, "hi": 0.936}, {"p": "e", "v": "e1w", "g": "wt", "y": -0.3, "lo": 0.655, "hi": 0.925},
      {"p": "e", "v": "e1w", "g": "wt", "y": -0.6, "lo": 0.707, "hi": 0.873}, {"p": "e", "v": "e1w", "g": "wt", "y": -0.9, "lo": 0.738, "hi": 0.842},
      {"p": "e", "v": "e1w", "g": "wt", "y": -1.2, "lo": 0.769, "hi": 0.811}, {"p": "e", "v": "e1w", "g": "wt", "y": -1.35, "lo": 0.79, "hi": 0.79},
      {"p": "e", "v": "e1m", "g": "mut", "y": 0.78, "lo": 1.21, "hi": 1.21}, {"p": "e", "v": "e1m", "g": "mut", "y": 0.5, "lo": 1.168, "hi": 1.252},
      {"p": "e", "v": "e1m", "g": "mut", "y": 0.2, "lo": 1.116, "hi": 1.304}, {"p": "e", "v": "e1m", "g": "mut", "y": 0.0, "lo": 1.075, "hi": 1.345},
      {"p": "e", "v": "e1m", "g": "mut", "y": -0.3, "lo": 1.043, "hi": 1.377}, {"p": "e", "v": "e1m", "g": "mut", "y": -0.5, "lo": 1.054, "hi": 1.366},
      {"p": "e", "v": "e1m", "g": "mut", "y": -0.7, "lo": 1.106, "hi": 1.314}, {"p": "e", "v": "e1m", "g": "mut", "y": -0.9, "lo": 1.148, "hi": 1.273},
      {"p": "e", "v": "e1m", "g": "mut", "y": -1.1, "lo": 1.179, "hi": 1.241}, {"p": "e", "v": "e1m", "g": "mut", "y": -1.27, "lo": 1.21, "hi": 1.21},
      {"p": "e", "v": "e6w", "g": "wt", "y": 1.18, "lo": 1.77, "hi": 1.77}, {"p": "e", "v": "e6w", "g": "wt", "y": 0.9, "lo": 1.718, "hi": 1.822},
      {"p": "e", "v": "e6w", "g": "wt", "y": 0.6, "lo": 1.645, "hi": 1.895}, {"p": "e", "v": "e6w", "g": "wt", "y": 0.35, "lo": 1.593, "hi": 1.947},
      {"p": "e", "v": "e6w", "g": "wt", "y": 0.1, "lo": 1.603, "hi": 1.937}, {"p": "e", "v": "e6w", "g": "wt", "y": -0.1, "lo": 1.655, "hi": 1.885},
      {"p": "e", "v": "e6w", "g": "wt", "y": -0.3, "lo": 1.708, "hi": 1.833}, {"p": "e", "v": "e6w", "g": "wt", "y": -0.5, "lo": 1.739, "hi": 1.801},
      {"p": "e", "v": "e6w", "g": "wt", "y": -0.63, "lo": 1.77, "hi": 1.77},
      {"p": "e", "v": "e6m", "g": "mut", "y": 0.11, "lo": 2.24, "hi": 2.24}, {"p": "e", "v": "e6m", "g": "mut", "y": 0.0, "lo": 2.209, "hi": 2.271},
      {"p": "e", "v": "e6m", "g": "mut", "y": -0.2, "lo": 2.136, "hi": 2.344}, {"p": "e", "v": "e6m", "g": "mut", "y": -0.4, "lo": 2.032, "hi": 2.448},
      {"p": "e", "v": "e6m", "g": "mut", "y": -0.55, "lo": 2.011, "hi": 2.469}, {"p": "e", "v": "e6m", "g": "mut", "y": -0.75, "lo": 2.073, "hi": 2.407},
      {"p": "e", "v": "e6m", "g": "mut", "y": -0.95, "lo": 2.157, "hi": 2.323}, {"p": "e", "v": "e6m", "g": "mut", "y": -1.15, "lo": 2.198, "hi": 2.282},
      {"p": "e", "v": "e6m", "g": "mut", "y": -1.38, "lo": 2.24, "hi": 2.24},
      {"p": "e", "v": "e22w", "g": "wt", "y": 0.86, "lo": 2.85, "hi": 2.85}, {"p": "e", "v": "e22w", "g": "wt", "y": 0.6, "lo": 2.808, "hi": 2.892},
      {"p": "e", "v": "e22w", "g": "wt", "y": 0.4, "lo": 2.725, "hi": 2.975}, {"p": "e", "v": "e22w", "g": "wt", "y": 0.15, "lo": 2.673, "hi": 3.027},
      {"p": "e", "v": "e22w", "g": "wt", "y": -0.1, "lo": 2.704, "hi": 2.996}, {"p": "e", "v": "e22w", "g": "wt", "y": -0.3, "lo": 2.767, "hi": 2.933},
      {"p": "e", "v": "e22w", "g": "wt", "y": -0.5, "lo": 2.808, "hi": 2.892}, {"p": "e", "v": "e22w", "g": "wt", "y": -0.76, "lo": 2.85, "hi": 2.85},
      {"p": "e", "v": "e22m", "g": "mut", "y": 0.86, "lo": 3.25, "hi": 3.25}, {"p": "e", "v": "e22m", "g": "mut", "y": 0.6, "lo": 3.208, "hi": 3.292},
      {"p": "e", "v": "e22m", "g": "mut", "y": 0.3, "lo": 3.146, "hi": 3.354}, {"p": "e", "v": "e22m", "g": "mut", "y": 0.05, "lo": 3.115, "hi": 3.385},
      {"p": "e", "v": "e22m", "g": "mut", "y": -0.3, "lo": 3.146, "hi": 3.354}, {"p": "e", "v": "e22m", "g": "mut", "y": -0.7, "lo": 3.188, "hi": 3.313},
      {"p": "e", "v": "e22m", "g": "mut", "y": -1.0, "lo": 3.198, "hi": 3.302}, {"p": "e", "v": "e22m", "g": "mut", "y": -1.3, "lo": 3.219, "hi": 3.281},
      {"p": "e", "v": "e22m", "g": "mut", "y": -1.6, "lo": 3.229, "hi": 3.271}, {"p": "e", "v": "e22m", "g": "mut", "y": -1.94, "lo": 3.25, "hi": 3.25},
      {"p": "h", "v": "h1w", "g": "wt", "y": 0.8, "lo": 0.8, "hi": 0.8}, {"p": "h", "v": "h1w", "g": "wt", "y": 0.55, "lo": 0.758, "hi": 0.842},
      {"p": "h", "v": "h1w", "g": "wt", "y": 0.3, "lo": 0.696, "hi": 0.904}, {"p": "h", "v": "h1w", "g": "wt", "y": 0.05, "lo": 0.644, "hi": 0.956},
      {"p": "h", "v": "h1w", "g": "wt", "y": -0.15, "lo": 0.644, "hi": 0.956}, {"p": "h", "v": "h1w", "g": "wt", "y": -0.35, "lo": 0.696, "hi": 0.904},
      {"p": "h", "v": "h1w", "g": "wt", "y": -0.55, "lo": 0.758, "hi": 0.842}, {"p": "h", "v": "h1w", "g": "wt", "y": -0.76, "lo": 0.8, "hi": 0.8},
      {"p": "h", "v": "h1m", "g": "mut", "y": 0.84, "lo": 1.2, "hi": 1.2}, {"p": "h", "v": "h1m", "g": "mut", "y": 0.7, "lo": 1.138, "hi": 1.263},
      {"p": "h", "v": "h1m", "g": "mut", "y": 0.5, "lo": 1.065, "hi": 1.335}, {"p": "h", "v": "h1m", "g": "mut", "y": 0.3, "lo": 1.013, "hi": 1.388},
      {"p": "h", "v": "h1m", "g": "mut", "y": 0.1, "lo": 0.992, "hi": 1.408}, {"p": "h", "v": "h1m", "g": "mut", "y": -0.1, "lo": 1.033, "hi": 1.367},
      {"p": "h", "v": "h1m", "g": "mut", "y": -0.25, "lo": 1.117, "hi": 1.283}, {"p": "h", "v": "h1m", "g": "mut", "y": -0.4, "lo": 1.2, "hi": 1.2},
      {"p": "h", "v": "h6w", "g": "wt", "y": 0.57, "lo": 1.78, "hi": 1.78}, {"p": "h", "v": "h6w", "g": "wt", "y": 0.3, "lo": 1.728, "hi": 1.832},
      {"p": "h", "v": "h6w", "g": "wt", "y": 0.0, "lo": 1.665, "hi": 1.895}, {"p": "h", "v": "h6w", "g": "wt", "y": -0.3, "lo": 1.593, "hi": 1.968},
      {"p": "h", "v": "h6w", "g": "wt", "y": -0.5, "lo": 1.613, "hi": 1.947}, {"p": "h", "v": "h6w", "g": "wt", "y": -0.7, "lo": 1.697, "hi": 1.863},
      {"p": "h", "v": "h6w", "g": "wt", "y": -0.85, "lo": 1.749, "hi": 1.811}, {"p": "h", "v": "h6w", "g": "wt", "y": -0.96, "lo": 1.78, "hi": 1.78},
      {"p": "h", "v": "h6m", "g": "mut", "y": 2.28, "lo": 2.14, "hi": 2.14}, {"p": "h", "v": "h6m", "g": "mut", "y": 2.0, "lo": 2.109, "hi": 2.171},
      {"p": "h", "v": "h6m", "g": "mut", "y": 1.8, "lo": 2.057, "hi": 2.223}, {"p": "h", "v": "h6m", "g": "mut", "y": 1.65, "lo": 2.036, "hi": 2.244},
      {"p": "h", "v": "h6m", "g": "mut", "y": 1.45, "lo": 2.078, "hi": 2.203}, {"p": "h", "v": "h6m", "g": "mut", "y": 1.25, "lo": 2.109, "hi": 2.171},
      {"p": "h", "v": "h6m", "g": "mut", "y": 1.05, "lo": 2.078, "hi": 2.203}, {"p": "h", "v": "h6m", "g": "mut", "y": 0.85, "lo": 2.036, "hi": 2.244},
      {"p": "h", "v": "h6m", "g": "mut", "y": 0.6, "lo": 1.994, "hi": 2.286}, {"p": "h", "v": "h6m", "g": "mut", "y": 0.4, "lo": 1.973, "hi": 2.307},
      {"p": "h", "v": "h6m", "g": "mut", "y": 0.15, "lo": 2.015, "hi": 2.265}, {"p": "h", "v": "h6m", "g": "mut", "y": -0.1, "lo": 2.078, "hi": 2.203},
      {"p": "h", "v": "h6m", "g": "mut", "y": -0.35, "lo": 2.119, "hi": 2.161}, {"p": "h", "v": "h6m", "g": "mut", "y": -0.57, "lo": 2.14, "hi": 2.14},
      {"p": "h", "v": "h22w", "g": "wt", "y": 0.34, "lo": 2.63, "hi": 2.63}, {"p": "h", "v": "h22w", "g": "wt", "y": 0.2, "lo": 2.568, "hi": 2.693},
      {"p": "h", "v": "h22w", "g": "wt", "y": 0.0, "lo": 2.463, "hi": 2.797}, {"p": "h", "v": "h22w", "g": "wt", "y": -0.15, "lo": 2.401, "hi": 2.859},
      {"p": "h", "v": "h22w", "g": "wt", "y": -0.3, "lo": 2.422, "hi": 2.838}, {"p": "h", "v": "h22w", "g": "wt", "y": -0.45, "lo": 2.484, "hi": 2.776},
      {"p": "h", "v": "h22w", "g": "wt", "y": -0.6, "lo": 2.568, "hi": 2.693}, {"p": "h", "v": "h22w", "g": "wt", "y": -0.73, "lo": 2.63, "hi": 2.63},
      {"p": "h", "v": "h22m", "g": "mut", "y": 2.05, "lo": 3.07, "hi": 3.07}, {"p": "h", "v": "h22m", "g": "mut", "y": 1.7, "lo": 3.028, "hi": 3.112},
      {"p": "h", "v": "h22m", "g": "mut", "y": 1.4, "lo": 2.987, "hi": 3.153}, {"p": "h", "v": "h22m", "g": "mut", "y": 1.1, "lo": 2.966, "hi": 3.174},
      {"p": "h", "v": "h22m", "g": "mut", "y": 0.8, "lo": 2.987, "hi": 3.153}, {"p": "h", "v": "h22m", "g": "mut", "y": 0.55, "lo": 2.976, "hi": 3.164},
      {"p": "h", "v": "h22m", "g": "mut", "y": 0.3, "lo": 2.945, "hi": 3.195}, {"p": "h", "v": "h22m", "g": "mut", "y": 0.0, "lo": 2.945, "hi": 3.195},
      {"p": "h", "v": "h22m", "g": "mut", "y": -0.3, "lo": 2.997, "hi": 3.143}, {"p": "h", "v": "h22m", "g": "mut", "y": -0.6, "lo": 3.039, "hi": 3.101},
      {"p": "h", "v": "h22m", "g": "mut", "y": -0.96, "lo": 3.07, "hi": 3.07}
    ],
    "boxes": [
      {"p": "e", "pos": 0.79, "lo": -0.7, "q1": -0.3, "med": -0.1, "q3": 0.37, "hi": 0.5},
      {"p": "e", "pos": 1.21, "lo": -0.66, "q1": -0.53, "med": -0.32, "q3": -0.02, "hi": 0.16},
      {"p": "e", "pos": 1.77, "lo": -0.1, "q1": 0.0, "med": 0.25, "q3": 0.43, "hi": 0.62},
      {"p": "e", "pos": 2.24, "lo": -0.99, "q1": -0.64, "med": -0.45, "q3": -0.37, "hi": -0.27},
      {"p": "e", "pos": 2.85, "lo": -0.25, "q1": -0.04, "med": 0.16, "q3": 0.27, "hi": 0.47},
      {"p": "e", "pos": 3.25, "lo": -1.1, "q1": -0.56, "med": -0.03, "q3": -0.01, "hi": 0.0},
      {"p": "h", "pos": 0.8, "lo": -0.42, "q1": -0.19, "med": 0.0, "q3": 0.12, "hi": 0.34},
      {"p": "h", "pos": 1.2, "lo": -0.1, "q1": 0.03, "med": 0.14, "q3": 0.26, "hi": 0.5},
      {"p": "h", "pos": 1.78, "lo": -0.47, "q1": -0.42, "med": -0.26, "q3": 0.0, "hi": 0.07},
      {"p": "h", "pos": 2.14, "lo": 0.07, "q1": 0.17, "med": 0.39, "q3": 0.6, "hi": 0.76},
      {"p": "h", "pos": 2.63, "lo": -0.37, "q1": -0.27, "med": -0.14, "q3": -0.08, "hi": 0.01},
      {"p": "h", "pos": 3.07, "lo": -0.02, "q1": -0.02, "med": -0.01, "q3": 0.53, "hi": 1.09}
    ]
  }
}
